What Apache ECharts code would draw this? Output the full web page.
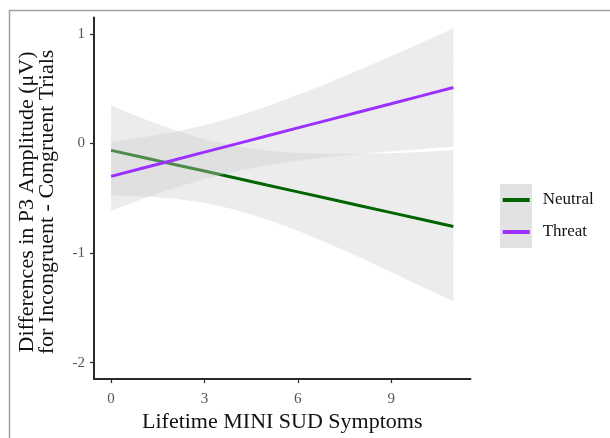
<!DOCTYPE html>
<html>
<head>
<meta charset="utf-8">
<script src="https://cdn.jsdelivr.net/npm/echarts@6/dist/echarts.min.js"></script>
<style>
html,body{margin:0;padding:0;background:#fff;}
#chart{width:610px;height:438px;}
</style>
</head>
<body>
<div id="chart"></div>
<script>
// ---- data ----
const xVals = [0, 1, 2, 3, 4, 5, 6, 7, 8, 9, 10, 11];
const neutralFit   = [-0.063, -0.126, -0.189, -0.252, -0.315, -0.379, -0.442, -0.505, -0.568, -0.631, -0.694, -0.757];
const neutralUpper = [0.347, 0.229, 0.124, 0.038, -0.025, -0.066, -0.087, -0.095, -0.095, -0.089, -0.079, -0.060];
const neutralLower = [-0.473, -0.481, -0.502, -0.542, -0.605, -0.692, -0.797, -0.915, -1.041, -1.173, -1.309, -1.440];
const threatFit    = [-0.300, -0.226, -0.153, -0.079, -0.006, 0.068, 0.142, 0.215, 0.289, 0.362, 0.436, 0.510];
const threatUpper  = [0.015, 0.055, 0.103, 0.167, 0.244, 0.337, 0.442, 0.554, 0.674, 0.796, 0.922, 1.050];
const threatLower  = [-0.615, -0.507, -0.409, -0.325, -0.256, -0.201, -0.158, -0.124, -0.096, -0.072, -0.050, -0.030];
const xTicks = [0, 3, 6, 9];
const yTicks = [-2, -1, 0, 1];
const seriesNames = ['Neutral', 'Threat'];
const xTitle = 'Lifetime MINI SUD Symptoms';
const yTitle = 'Differences in P3 Amplitude (\u03bcV)\nfor Incongruent - Congruent Trials';

const FONT = '"Liberation Serif", "DejaVu Serif", serif';
const GREEN = '#006400';
const PURPLE = '#9B30FF';
const BAND = 'rgba(205,205,205,0.38)';

function bandSeries(name, lower, upper, z) {
  return {
    name: name,
    type: 'custom',
    z: z,
    silent: true,
    data: [0],
    renderItem: function (params, api) {
      const pts = [];
      for (let i = 0; i < xVals.length; i++) pts.push(api.coord([xVals[i], upper[i]]));
      for (let i = xVals.length - 1; i >= 0; i--) pts.push(api.coord([xVals[i], lower[i]]));
      return { type: 'polygon', shape: { points: pts }, style: { fill: BAND, stroke: null } };
    }
  };
}
function lineSeries(name, fit, color, z) {
  return {
    name: name,
    type: 'line',
    z: z,
    data: xVals.map((x, i) => [x, fit[i]]),
    showSymbol: false,
    symbol: 'none',
    color: color,
    lineStyle: { color: color, width: 3 },
    emphasis: { disabled: true },
    silent: true
  };
}

const chart = echarts.init(document.getElementById('chart'), null, { renderer: 'canvas' });
chart.setOption({
  animation: false,
  backgroundColor: '#ffffff',
  grid: { left: 94, right: 139.5, top: 17.4, bottom: 54.4, containLabel: false },
  xAxis: {
    type: 'value', min: -0.55, max: 11.55,
    name: xTitle, nameLocation: 'middle', nameGap: 28,
    nameTextStyle: { fontFamily: FONT, fontSize: 22, color: '#111' },
    axisLine: { show: true, onZero: false, lineStyle: { color: '#2a2a2a', width: 2 } },
    axisTick: { show: true, length: 4, customValues: xTicks, lineStyle: { color: '#2a2a2a', width: 1.2 } },
    axisLabel: { customValues: xTicks, margin: 12, fontFamily: FONT, fontSize: 15, color: '#555' },
    splitLine: { show: false }
  },
  yAxis: {
    type: 'value', min: -2.15, max: 1.15,
    axisLine: { show: true, onZero: false, lineStyle: { color: '#2a2a2a', width: 2 } },
    axisTick: { show: true, length: 4, customValues: yTicks, lineStyle: { color: '#2a2a2a', width: 1.2 } },
    axisLabel: { customValues: yTicks, margin: 9, fontFamily: FONT, fontSize: 15, color: '#555' },
    splitLine: { show: false }
  },
  legend: {
    orient: 'vertical', left: 497.7, top: 185, padding: 5,
    data: seriesNames, itemWidth: 27, itemHeight: 4, itemGap: 12,
    icon: 'rect', selectedMode: false,
    textStyle: { fontFamily: FONT, fontSize: 17, color: '#111', lineHeight: 20, padding: [0, 0, 0, 8] }
  },
  graphic: [
    { type: 'rect', z: 0, silent: true, shape: { x: 9.5, y: 10.5, width: 700, height: 500 },
      style: { fill: 'none', stroke: '#a0a0a0', lineWidth: 1.5 } },
    { type: 'rect', z: 0, silent: true, shape: { x: 500, y: 184, width: 32, height: 64 },
      style: { fill: '#e2e2e2' } },
    { type: 'text', silent: true, x: 37.5, y: 202, rotation: Math.PI / 2,
      style: { text: yTitle, font: '22px ' + FONT, fill: '#111', align: 'center', verticalAlign: 'middle', lineHeight: 20 } }
  ],
  series: [
    bandSeries('Neutral band', neutralLower, neutralUpper, 1),
    lineSeries('Neutral', neutralFit, GREEN, 2),
    bandSeries('Threat band', threatLower, threatUpper, 3),
    lineSeries('Threat', threatFit, PURPLE, 4)
  ]
});
</script>
</body>
</html>
